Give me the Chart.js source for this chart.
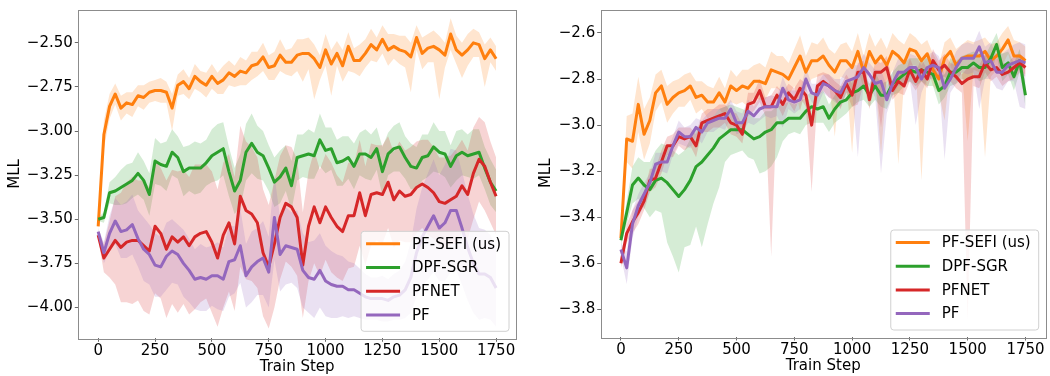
<!DOCTYPE html>
<html>
<head>
<meta charset="utf-8">
<script src="https://cdn.jsdelivr.net/npm/chart.js@4.4.1/dist/chart.umd.min.js"></script>
<style>
  body { margin: 0; background: #fff; }
  #wrap { display: flex; width: 1050px; height: 376px; }
  canvas { display: block; }
</style>
</head>
<body>
<div id="wrap">
  <canvas id="left" width="525" height="376"></canvas>
  <canvas id="right" width="525" height="376"></canvas>
</div>
<script>
// Train steps (every 25 steps)
const steps = [0, 25, 50, 75, 100, 125, 150, 175, 200, 225, 250, 275, 300, 325, 350, 375, 400, 425, 450, 475,
  500, 525, 550, 575, 600, 625, 650, 675, 700, 725, 750, 775, 800, 825, 850, 875, 900, 925, 950, 975,
  1000, 1025, 1050, 1075, 1100, 1125, 1150, 1175, 1200, 1225, 1250, 1275, 1300, 1325, 1350, 1375, 1400, 1425, 1450, 1475,
  1500, 1525, 1550, 1575, 1600, 1625, 1650, 1675, 1700, 1725, 1750];

const labels = ['PF-SEFI (us)', 'DPF-SGR', 'PFNET', 'PF'];
const colors = ['#ff7f0e', '#2ca02c', '#d62728', '#9467bd'];

const xTicks = [0, 250, 500, 750, 1000, 1250, 1500, 1750];
const leftYTicks = [-2.5, -2.75, -3.0, -3.25, -3.5, -3.75, -4.0];
const rightYTicks = [-2.6, -2.8, -3.0, -3.2, -3.4, -3.6, -3.8];

// ---- left panel ----
const leftSefi = [-3.54, -3.02, -2.86, -2.79, -2.87, -2.84, -2.85, -2.80, -2.81, -2.78,
  -2.77, -2.77, -2.78, -2.87, -2.74, -2.72, -2.76, -2.69, -2.72, -2.74,
  -2.69, -2.73, -2.71, -2.67, -2.69, -2.66, -2.67, -2.63, -2.62, -2.58,
  -2.64, -2.63, -2.57, -2.61, -2.61, -2.57, -2.56, -2.56, -2.59, -2.64,
  -2.54, -2.62, -2.56, -2.63, -2.52, -2.60, -2.60, -2.56, -2.51, -2.54,
  -2.48, -2.54, -2.52, -2.54, -2.55, -2.58, -2.47, -2.56, -2.53, -2.52,
  -2.54, -2.57, -2.45, -2.54, -2.57, -2.54, -2.50, -2.51, -2.59, -2.54, -2.59];
const leftSefiSpread = [0.02, 0.08, 0.07, 0.06, 0.07, 0.06, 0.07, 0.06, 0.07, 0.06,
  0.06, 0.07, 0.06, 0.08, 0.06, 0.07, 0.06, 0.07, 0.06, 0.07,
  0.07, 0.06, 0.08, 0.07, 0.06, 0.08, 0.07, 0.08, 0.07, 0.08,
  0.07, 0.08, 0.09, 0.07, 0.08, 0.09, 0.08, 0.09, 0.08, 0.07,
  0.09, 0.08, 0.07, 0.09, 0.08, 0.07, 0.09, 0.08, 0.09, 0.07,
  0.08, 0.09, 0.07, 0.08, 0.09, 0.08, 0.07, 0.09, 0.08, 0.09,
  0.08, 0.07, 0.09, 0.08, 0.07, 0.09, 0.08, 0.07, 0.08, 0.07, 0.07];
const leftSefiDrop = [0, 0, 0, 0, 0, 0, 0, 0, 0, 0,
  0, 0, 0, 0.05, 0, 0, 0, 0, 0, 0,
  0, 0, 0, 0, 0, 0, 0, 0, 0, 0,
  0, 0, 0, 0, 0, 0, 0.08, 0, 0.15, 0,
  0, 0.10, 0, 0, 0.06, 0, 0, 0, 0, 0,
  0, 0, 0, 0, 0, 0.12, 0, 0, 0, 0,
  0.20, 0, 0, 0, 0.06, 0, 0, 0, 0.08, 0, 0];

const leftSgr = [-3.50, -3.49, -3.35, -3.34, -3.32, -3.30, -3.28, -3.24, -3.28, -3.36,
  -3.17, -3.19, -3.20, -3.12, -3.15, -3.23, -3.21, -3.21, -3.21, -3.18,
  -3.14, -3.12, -3.10, -3.23, -3.34, -3.28, -3.12, -3.07, -3.12, -3.14,
  -3.21, -3.29, -3.26, -3.21, -3.31, -3.15, -3.14, -3.13, -3.14, -3.05,
  -3.11, -3.10, -3.18, -3.17, -3.15, -3.20, -3.13, -3.13, -3.15, -3.10,
  -3.23, -3.13, -3.10, -3.09, -3.15, -3.20, -3.21, -3.15, -3.14, -3.09,
  -3.12, -3.13, -3.20, -3.14, -3.12, -3.14, -3.13, -3.12, -3.21, -3.29, -3.34];
const leftSgrSpread = [0.01, 0.03, 0.06, 0.08, 0.10, 0.11, 0.10, 0.12, 0.11, 0.12,
  0.13, 0.12, 0.14, 0.13, 0.12, 0.14, 0.13, 0.15, 0.14, 0.13,
  0.15, 0.16, 0.15, 0.14, 0.13, 0.15, 0.16, 0.17, 0.15, 0.14,
  0.13, 0.14, 0.15, 0.13, 0.14, 0.13, 0.12, 0.14, 0.13, 0.15,
  0.13, 0.12, 0.13, 0.14, 0.12, 0.13, 0.12, 0.14, 0.13, 0.12,
  0.14, 0.12, 0.13, 0.14, 0.12, 0.13, 0.12, 0.13, 0.12, 0.14,
  0.12, 0.13, 0.12, 0.14, 0.13, 0.12, 0.14, 0.13, 0.12, 0.13, 0.12];

const leftPfnet = [-3.59, -3.72, -3.67, -3.62, -3.66, -3.63, -3.62, -3.62, -3.65, -3.68,
  -3.54, -3.58, -3.67, -3.60, -3.63, -3.60, -3.65, -3.60, -3.58, -3.57,
  -3.63, -3.72, -3.59, -3.52, -3.64, -3.37, -3.45, -3.47, -3.52, -3.69,
  -3.77, -3.64, -3.49, -3.41, -3.43, -3.49, -3.76, -3.54, -3.43, -3.52,
  -3.43, -3.49, -3.54, -3.57, -3.48, -3.48, -3.35, -3.48, -3.36, -3.35,
  -3.36, -3.29, -3.39, -3.34, -3.37, -3.36, -3.32, -3.30, -3.32, -3.35,
  -3.40, -3.41, -3.39, -3.37, -3.31, -3.36, -3.24, -3.16, -3.20, -3.29, -3.37];
const leftPfnetSpread = [0.02, 0.08, 0.16, 0.25, 0.31, 0.34, 0.36, 0.34, 0.37, 0.36,
  0.38, 0.37, 0.39, 0.38, 0.40, 0.38, 0.39, 0.41, 0.39, 0.38,
  0.40, 0.39, 0.41, 0.39, 0.38, 0.40, 0.39, 0.38, 0.37, 0.36,
  0.35, 0.36, 0.35, 0.33, 0.34, 0.33, 0.30, 0.31, 0.32, 0.30,
  0.30, 0.31, 0.29, 0.28, 0.30, 0.29, 0.30, 0.28, 0.29, 0.27,
  0.28, 0.26, 0.27, 0.28, 0.26, 0.27, 0.26, 0.25, 0.27, 0.26,
  0.25, 0.26, 0.25, 0.27, 0.26, 0.25, 0.26, 0.24, 0.25, 0.23, 0.22];

const leftPf = [-3.57, -3.69, -3.58, -3.51, -3.57, -3.56, -3.53, -3.61, -3.67, -3.70,
  -3.76, -3.77, -3.71, -3.68, -3.70, -3.75, -3.79, -3.84, -3.83, -3.84,
  -3.82, -3.82, -3.84, -3.74, -3.73, -3.65, -3.82, -3.77, -3.74, -3.72,
  -3.80, -3.49, -3.70, -3.65, -3.66, -3.67, -3.79, -3.83, -3.84, -3.79,
  -3.85, -3.87, -3.88, -3.88, -3.90, -3.90, -3.92, -3.94, -3.95, -3.95,
  -3.95, -3.96, -3.94, -3.93, -3.90, -3.83, -3.69, -3.60, -3.54, -3.48,
  -3.55, -3.52, -3.45, -3.45, -3.55, -3.66, -3.75, -3.81, -3.81, -3.83, -3.89];
const leftPfSpread = [0.02, 0.06, 0.10, 0.13, 0.15, 0.16, 0.17, 0.16, 0.18, 0.17,
  0.18, 0.17, 0.19, 0.18, 0.17, 0.19, 0.18, 0.17, 0.19, 0.18,
  0.17, 0.19, 0.18, 0.20, 0.19, 0.21, 0.18, 0.20, 0.19, 0.21,
  0.20, 0.24, 0.21, 0.22, 0.20, 0.22, 0.21, 0.20, 0.22, 0.21,
  0.20, 0.19, 0.18, 0.17, 0.16, 0.15, 0.14, 0.13, 0.12, 0.12,
  0.13, 0.12, 0.13, 0.14, 0.16, 0.20, 0.25, 0.28, 0.30, 0.32,
  0.30, 0.33, 0.35, 0.34, 0.32, 0.30, 0.28, 0.26, 0.25, 0.24, 0.22];

// ---- right panel ----
const rightSefi = [-3.49, -3.06, -3.07, -2.91, -3.04, -2.98, -2.86, -2.83, -2.91, -2.88,
  -2.86, -2.85, -2.83, -2.88, -2.87, -2.90, -2.90, -2.86, -2.90, -2.83,
  -2.85, -2.83, -2.84, -2.81, -2.81, -2.82, -2.76, -2.77, -2.78, -2.80,
  -2.75, -2.70, -2.77, -2.72, -2.72, -2.70, -2.74, -2.77, -2.72, -2.72,
  -2.75, -2.68, -2.77, -2.68, -2.73, -2.70, -2.74, -2.68, -2.70, -2.73,
  -2.67, -2.68, -2.72, -2.69, -2.76, -2.80, -2.71, -2.68, -2.74, -2.71,
  -2.70, -2.70, -2.70, -2.68, -2.72, -2.70, -2.67, -2.63, -2.70, -2.70, -2.72];
const rightSefiSpread = [0.02, 0.10, 0.12, 0.12, 0.11, 0.10, 0.08, 0.07, 0.08, 0.07,
  0.06, 0.07, 0.06, 0.07, 0.06, 0.07, 0.06, 0.07, 0.06, 0.07,
  0.06, 0.07, 0.08, 0.07, 0.08, 0.07, 0.08, 0.07, 0.08, 0.07,
  0.08, 0.09, 0.07, 0.08, 0.07, 0.08, 0.07, 0.08, 0.07, 0.08,
  0.07, 0.08, 0.07, 0.08, 0.07, 0.08, 0.07, 0.08, 0.07, 0.08,
  0.07, 0.06, 0.07, 0.06, 0.07, 0.06, 0.07, 0.06, 0.07, 0.06,
  0.07, 0.06, 0.07, 0.06, 0.07, 0.06, 0.07, 0.06, 0.07, 0.06, 0.06];
const rightSefiDrop = [0, 0, 0, 0, 0, 0, 0, 0, 0, 0,
  0, 0, 0, 0, 0, 0, 0, 0, 0, 0,
  0, 0, 0, 0, 0, 0, 0, 0, 0, 0,
  0, 0.15, 0, 0, 0, 0, 0, 0.20, 0, 0,
  0.30, 0, 0, 0, 0, 0.35, 0, 0, 0.40, 0,
  0, 0, 0.45, 0, 0, 0, 0.20, 0, 0, 0,
  0.30, 0, 0, 0.40, 0, 0, 0, 0, 0, 0, 0];

const rightSgr = [-3.50, -3.38, -3.26, -3.23, -3.26, -3.28, -3.24, -3.23, -3.25, -3.28,
  -3.31, -3.28, -3.24, -3.18, -3.16, -3.13, -3.10, -3.06, -3.04, -3.02,
  -3.02, -3.02, -3.04, -3.06, -3.05, -3.03, -3.02, -2.99, -2.99, -2.97,
  -2.97, -2.97, -2.94, -2.92, -2.93, -2.92, -2.97, -2.93, -2.90, -2.89,
  -2.86, -2.85, -2.83, -2.87, -2.83, -2.87, -2.87, -2.82, -2.80, -2.78,
  -2.76, -2.77, -2.76, -2.77, -2.78, -2.85, -2.83, -2.77, -2.77, -2.75,
  -2.75, -2.73, -2.75, -2.75, -2.71, -2.65, -2.75, -2.73, -2.79, -2.72, -2.87];
const rightSgrSpread = [0.02, 0.05, 0.08, 0.09, 0.10, 0.12, 0.13, 0.15, 0.16, 0.17,
  0.18, 0.17, 0.18, 0.16, 0.17, 0.15, 0.14, 0.13, 0.12, 0.11,
  0.10, 0.09, 0.10, 0.09, 0.08, 0.09, 0.08, 0.07, 0.08, 0.07,
  0.06, 0.07, 0.06, 0.07, 0.06, 0.07, 0.06, 0.06, 0.07, 0.06,
  0.06, 0.05, 0.06, 0.05, 0.06, 0.05, 0.06, 0.05, 0.06, 0.05,
  0.05, 0.06, 0.05, 0.06, 0.05, 0.06, 0.05, 0.06, 0.05, 0.05,
  0.06, 0.05, 0.06, 0.05, 0.06, 0.05, 0.06, 0.05, 0.06, 0.05, 0.05];
const rightSgrDrop = [0, 0, 0, 0, 0, 0, 0, 0, 0.10, 0.12,
  0.15, 0.08, 0.10, 0.10, 0.20, 0.15, 0.10, 0.08, 0, 0,
  0, 0, 0, 0, 0.08, 0.08, 0.08, 0.08, 0, 0,
  0, 0, 0, 0, 0, 0, 0, 0, 0, 0,
  0, 0, 0, 0, 0, 0, 0, 0, 0, 0,
  0, 0, 0, 0, 0, 0, 0, 0, 0, 0,
  0, 0, 0, 0, 0, 0, 0, 0, 0, 0, 0];

const rightPfnet = [-3.60, -3.47, -3.42, -3.38, -3.33, -3.24, -3.23, -3.16, -3.09, -3.09,
  -3.05, -3.06, -3.05, -3.09, -2.99, -2.98, -2.97, -2.96, -2.95, -2.99,
  -3.00, -3.04, -2.91, -2.90, -2.85, -2.92, -2.92, -2.87, -2.91, -2.86,
  -2.89, -2.84, -2.87, -3.00, -2.83, -2.81, -2.83, -2.85, -2.88, -2.82,
  -2.87, -2.77, -2.77, -2.89, -2.77, -2.77, -2.75, -2.85, -2.81, -2.83,
  -2.76, -2.81, -2.76, -2.80, -2.72, -2.76, -2.74, -2.77, -2.79, -2.82,
  -2.80, -2.79, -2.79, -2.73, -2.76, -2.75, -2.78, -2.77, -2.75, -2.73, -2.75];
const rightPfnetSpread = [0.02, 0.04, 0.05, 0.05, 0.04, 0.05, 0.04, 0.05, 0.04, 0.05,
  0.04, 0.05, 0.04, 0.05, 0.04, 0.05, 0.04, 0.05, 0.04, 0.05,
  0.05, 0.04, 0.05, 0.04, 0.05, 0.04, 0.05, 0.04, 0.05, 0.04,
  0.05, 0.04, 0.05, 0.04, 0.05, 0.04, 0.05, 0.04, 0.05, 0.04,
  0.05, 0.04, 0.05, 0.04, 0.05, 0.04, 0.05, 0.04, 0.05, 0.04,
  0.05, 0.04, 0.05, 0.04, 0.05, 0.04, 0.05, 0.04, 0.05, 0.04,
  0.05, 0.04, 0.05, 0.04, 0.05, 0.04, 0.05, 0.04, 0.05, 0.04, 0.04];
const rightPfnetDrop = [0, 0, 0, 0, 0, 0, 0, 0, 0, 0,
  0, 0, 0, 0, 0, 0, 0, 0, 0, 0,
  0, 0, 0, 0, 0, 0, 0.60, 0, 0, 0,
  0, 0, 0, 0.25, 0, 0, 0, 0, 0, 0,
  0, 0.10, 0, 0, 0, 0.20, 0, 0, 0, 0,
  0, 0, 0, 0, 0, 0, 0, 0, 0, 0,
  1.00, 0, 0, 0, 0, 0, 0, 0, 0, 0, 0];

const rightPf = [-3.54, -3.62, -3.43, -3.35, -3.30, -3.25, -3.17, -3.16, -3.16, -3.09,
  -3.03, -3.05, -3.05, -3.01, -3.03, -2.99, -2.98, -2.97, -2.97, -2.93,
  -2.99, -2.99, -2.94, -2.96, -2.93, -2.92, -2.92, -2.92, -2.84, -2.89,
  -2.90, -2.89, -2.80, -2.86, -2.87, -2.82, -2.83, -2.85, -2.86, -2.81,
  -2.80, -2.79, -2.75, -2.78, -2.82, -2.81, -2.89, -2.82, -2.77, -2.77,
  -2.75, -2.75, -2.80, -2.75, -2.74, -2.75, -2.84, -2.80, -2.75, -2.71,
  -2.71, -2.71, -2.66, -2.73, -2.72, -2.77, -2.77, -2.74, -2.73, -2.72, -2.73];
const rightPfSpread = [0.03, 0.07, 0.06, 0.05, 0.05, 0.04, 0.05, 0.04, 0.05, 0.04,
  0.05, 0.04, 0.05, 0.04, 0.05, 0.04, 0.05, 0.04, 0.05, 0.04,
  0.05, 0.04, 0.05, 0.04, 0.05, 0.04, 0.05, 0.04, 0.05, 0.04,
  0.05, 0.04, 0.05, 0.04, 0.05, 0.04, 0.05, 0.05, 0.06, 0.05,
  0.06, 0.05, 0.06, 0.05, 0.06, 0.05, 0.06, 0.05, 0.06, 0.05,
  0.06, 0.05, 0.06, 0.05, 0.06, 0.05, 0.06, 0.06, 0.07, 0.06,
  0.07, 0.06, 0.07, 0.07, 0.08, 0.07, 0.08, 0.07, 0.08, 0.08, 0.08];
const rightPfDrop = [0, 0, 0, 0, 0, 0, 0, 0, 0, 0,
  0, 0, 0, 0, 0, 0, 0, 0, 0, 0,
  0, 0, 0, 0, 0, 0, 0, 0, 0.12, 0,
  0, 0, 0, 0, 0, 0, 0, 0, 0, 0,
  0, 0.30, 0, 0, 0, 0.35, 0, 0, 0, 0,
  0, 0.20, 0, 0, 0, 0, 0.25, 0, 0, 0,
  0, 0, 0.20, 0, 0, 0, 0, 0, 0, 0.12, 0.12];

const FONT = 'DejaVu Sans';
const SPINE = '#8c8c8c';

function rgba(hex, a) {
  const n = parseInt(hex.slice(1), 16);
  return `rgba(${n >> 16}, ${(n >> 8) & 255}, ${n & 255}, ${a})`;
}

function fmtMinus(v, dec) {
  const s = Math.abs(v).toFixed(dec);
  return v < 0 ? '\u2212' + s : s;
}

// matplotlib-like frame around the plot area
const framePlugin = {
  id: 'frame',
  afterDatasetsDraw(chart) {
    const { ctx, chartArea: a } = chart;
    ctx.save();
    ctx.strokeStyle = SPINE;
    ctx.lineWidth = 1;
    ctx.strokeRect(Math.round(a.left) + 0.5, Math.round(a.top) + 0.5,
      Math.round(a.right - a.left), Math.round(a.bottom - a.top));
    ctx.restore();
  }
};

// legend box in the lower right of the plot area
const insetLegend = {
  id: 'insetLegend',
  afterDraw(chart) {
    const { ctx, chartArea: a } = chart;
    const items = chart.data.datasets.filter(d => d.label);
    ctx.save();
    ctx.font = `15px "${FONT}"`;
    const textW = Math.max(...items.map(d => ctx.measureText(d.label).width));
    const w = 51 + textW + 8;
    const rowH = 23.7;
    const h = 100;
    const x0 = a.right - 7 - w;
    const y0 = a.bottom - 7 - h;
    ctx.beginPath();
    ctx.roundRect(x0, y0, w, h, 3);
    ctx.fillStyle = 'rgba(255,255,255,0.8)';
    ctx.fill();
    ctx.strokeStyle = '#d0d0d0';
    ctx.lineWidth = 1;
    ctx.stroke();
    items.forEach((d, i) => {
      const y = y0 + 12.5 + i * rowH;
      ctx.beginPath();
      ctx.moveTo(x0 + 5, y);
      ctx.lineTo(x0 + 39, y);
      ctx.strokeStyle = d.borderColor;
      ctx.lineWidth = 3;
      ctx.stroke();
      ctx.fillStyle = '#000';
      ctx.textBaseline = 'middle';
      ctx.fillText(d.label, x0 + 51, y + 1);
    });
    ctx.restore();
  }
};

function buildDatasets(series) {
  const ds = [];
  series.forEach((s, i) => {
    const drop = s.drop || [];
    ds.push({
      data: steps.map((x, k) => ({ x, y: s.mean[k] + s.spread[k] })),
      borderWidth: 0, pointRadius: 0, fill: false, order: 30 - i
    });
    ds.push({
      data: steps.map((x, k) => ({ x, y: s.mean[k] - s.spread[k] - (drop[k] || 0) })),
      borderWidth: 0, pointRadius: 0, fill: '-1',
      backgroundColor: rgba(colors[i], 0.2), order: 30 - i
    });
  });
  series.forEach((s, i) => {
    ds.push({
      label: labels[i],
      data: steps.map((x, k) => ({ x, y: s.mean[k] })),
      borderColor: colors[i], borderWidth: 3, pointRadius: 0,
      borderJoinStyle: 'round', fill: false, order: 10 - i
    });
  });
  return ds;
}

function makeChart(id, series, cfg) {
  const tickFont = { family: FONT, size: 15, lineHeight: 1 };
  return new Chart(document.getElementById(id), {
    type: 'line',
    data: { datasets: buildDatasets(series) },
    options: {
      responsive: false,
      animation: false,
      devicePixelRatio: 1,
      events: [],
      layout: { padding: cfg.padding },
      plugins: { legend: { display: false }, tooltip: { enabled: false } },
      scales: {
        x: {
          type: 'linear', min: -87.5, max: 1837.5,
          afterBuildTicks: s => { s.ticks = xTicks.map(v => ({ value: v })); },
          afterFit: s => { s.height = cfg.xHeight; },
          ticks: { font: tickFont, color: '#000', padding: 2, maxRotation: 0, autoSkip: false,
            callback: v => String(v) },
          grid: { drawOnChartArea: false, drawTicks: true, tickLength: 3.5, tickColor: '#444', tickWidth: 0.8 },
          border: { display: false },
          title: { display: true, text: 'Train Step', color: '#000',
            font: { family: FONT, size: 15, lineHeight: 1.2 }, padding: { top: 0, bottom: cfg.xTitlePad } }
        },
        y: {
          type: 'linear', min: cfg.yMin, max: cfg.yMax,
          afterBuildTicks: s => { s.ticks = cfg.yTicks.map(v => ({ value: v })); },
          afterFit: s => { s.width = cfg.yWidth; },
          ticks: { font: tickFont, color: '#000', padding: 2, autoSkip: false,
            callback: v => fmtMinus(v, cfg.yDec) },
          grid: { drawOnChartArea: false, drawTicks: true, tickLength: 3.5, tickColor: '#444', tickWidth: 0.8 },
          border: { display: false },
          title: { display: true, text: 'MLL', color: '#000',
            font: { family: FONT, size: 15, lineHeight: 1.2 }, padding: { top: cfg.yTitlePad, bottom: 0 } }
        }
      }
    },
    plugins: [framePlugin, insetLegend]
  });
}

makeChart('left', [
  { mean: leftSefi, spread: leftSefiSpread, drop: leftSefiDrop },
  { mean: leftSgr, spread: leftSgrSpread },
  { mean: leftPfnet, spread: leftPfnetSpread },
  { mean: leftPf, spread: leftPfSpread }
], {
  yMin: -4.175, yMax: -2.311, yTicks: leftYTicks, yDec: 2,
  padding: { left: 0, top: 8.3, right: 9, bottom: 0 },
  yWidth: 78.3, xHeight: 37.7, yTitlePad: 6.5, xTitlePad: 0
});

makeChart('right', [
  { mean: rightSefi, spread: rightSefiSpread, drop: rightSefiDrop },
  { mean: rightSgr, spread: rightSgrSpread, drop: rightSgrDrop },
  { mean: rightPfnet, spread: rightPfnetSpread, drop: rightPfnetDrop },
  { mean: rightPf, spread: rightPfSpread, drop: rightPfDrop }
], {
  yMin: -3.92, yMax: -2.498, yTicks: rightYTicks, yDec: 1,
  padding: { left: 0, top: 1.7, right: 4.3, bottom: 0 },
  yWidth: 75.7, xHeight: 39, yTitlePad: 12, xTitlePad: 0.5
});
</script>
</body>
</html>
